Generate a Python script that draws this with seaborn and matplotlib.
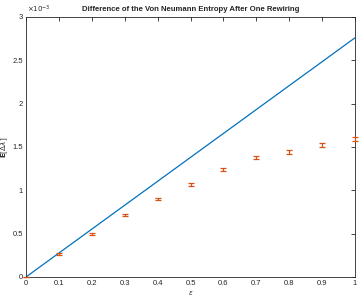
import matplotlib
matplotlib.use("Agg")
import matplotlib.pyplot as plt
import seaborn as sns
import numpy as np
import pandas as pd

eps = [0.0, 0.1, 0.2, 0.3, 0.4, 0.5, 0.6, 0.7, 0.8, 0.9, 1.0]
mean_dl = [0.0, 0.262, 0.500, 0.712, 0.900, 1.070, 1.238, 1.377, 1.442, 1.520, 1.596]  # x1e-3
err_dl = [0.0, 0.012, 0.012, 0.012, 0.014, 0.016, 0.018, 0.020, 0.022, 0.025, 0.025]  # x1e-3
line_x = [0.0, 1.0]
line_y = [0.0, 2.76]  # x1e-3
xticks = [0, 0.1, 0.2, 0.3, 0.4, 0.5, 0.6, 0.7, 0.8, 0.9, 1]
yticks = [0, 0.5, 1, 1.5, 2, 2.5, 3]
ytick_labels = ["0", "0.5", "1", "1.5", "2", "2.5", "3"]
xtick_labels = ["0", "0.1", "0.2", "0.3", "0.4", "0.5", "0.6", "0.7", "0.8", "0.9", "1"]

sns.set_style("white")
plt.rcParams['font.family'] = ['Liberation Sans', 'DejaVu Sans']

fig = plt.figure(figsize=(3.62, 2.98), dpi=100)
ax = fig.add_axes([0.0718, 0.0705, 0.9089, 0.8725])

df_line = pd.DataFrame({"x": line_x, "y": line_y})
sns.lineplot(data=df_line, x="x", y="y", ax=ax, color="#0072BD", linewidth=0.9)

df_pts = pd.DataFrame({"x": eps, "y": mean_dl, "e": err_dl})
ax.errorbar(df_pts["x"], df_pts["y"], yerr=df_pts["e"], fmt="none",
            ecolor="#D95319", elinewidth=0.9, capsize=2.2, capthick=0.9,
            clip_on=False, zorder=3)

ax.set_xlim(0, 1)
ax.set_ylim(0, 3)
ax.set_xticks(xticks)
ax.set_xticklabels(xtick_labels)
ax.set_yticks(yticks)
ax.set_yticklabels(ytick_labels)
ax.tick_params(direction="in", length=3, width=0.6, labelsize=5.5, colors="#262626",
               top=True, right=True, pad=2)
for s in ax.spines.values():
    s.set_color("#262626")
    s.set_linewidth(0.6)
    s.set_visible(True)

ax.set_xlabel(r"$\epsilon$", fontsize=5)
ax.xaxis.set_label_coords(0.5, -0.048)
ax.set_ylabel(r"$\mathbf{E}[\Delta\lambda]$", fontsize=5.2)
ax.yaxis.set_label_coords(-0.05, 0.5)
ax.set_title("Difference of the Von Neumann Entropy After One Rewiring",
             fontsize=5.6, fontweight="bold", pad=4.5)
ax.text(0.003, 1.008, r"$\times10^{-3}$", transform=ax.transAxes, fontsize=5,
        ha="left", va="bottom", color="#262626")

fig.savefig("out.png", dpi=100)
